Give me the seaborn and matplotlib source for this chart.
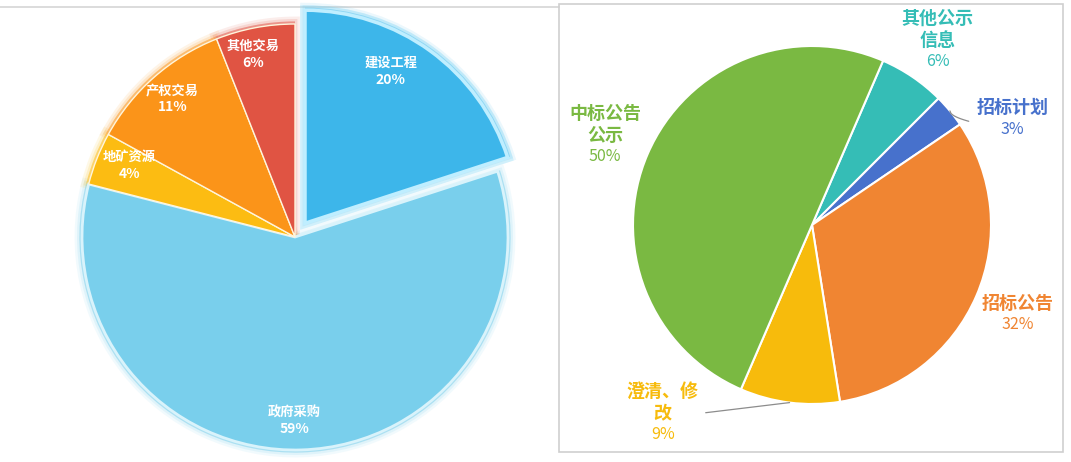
import numpy as np
import matplotlib
matplotlib.use("Agg")
import matplotlib.pyplot as plt
import matplotlib.patheffects as pe
from matplotlib.patches import Rectangle
from matplotlib.lines import Line2D
import seaborn as sns

# ---------------- data ----------------
left_labels = ["建设工程", "政府采购", "地矿资源", "产权交易", "其他交易"]
left_values = [20, 59, 4, 11, 6]
left_colors = ["#3db6ea", "#79cfec", "#fcbc12", "#fb9419", "#e05443"]

right_labels = ["其他公示\n信息", "招标计划", "招标公告", "澄清、修\n改", "中标公告\n公示"]
right_values = [6, 3, 32, 9, 50]
right_colors = ["#35bdb6", "#4771cc", "#f08532", "#f7bb0c", "#7ab942"]

sns.set_theme(style="white")
plt.rcParams['font.family'] = ['Noto Sans CJK SC', 'DejaVu Sans']

W, H = 1071, 462
fig = plt.figure(figsize=(W / 100, H / 100), dpi=100)
ax = fig.add_axes([0, 0, 1, 1])
ax.set_xlim(0, W)
ax.set_ylim(0, H)
ax.set_axis_off()

def py(y):
    return H - y

# panel frames
ax.add_line(Line2D([0, 559], [py(7), py(7)], color="#d6d6d6", lw=1.2, zorder=0))
ax.add_patch(Rectangle((559, py(452)), 504, 448, fill=False, ec="#cfcfcf", lw=1.2, zorder=0))

# ---------------- left pie ----------------
lc = (295, py(237))
lr = 213
explode_frac = [0.08, 0, 0, 0, 0]
explode = [e * lr for e in explode_frac]
pal_left = sns.color_palette(left_colors)

# glow layer
glow, _ = ax.pie(left_values, colors=pal_left, startangle=90, counterclock=False,
                 center=lc, radius=lr * 1.012, explode=explode,
                 frame=True, wedgeprops=dict(alpha=0.35, linewidth=0))
for w in glow:
    w.set_path_effects([pe.Stroke(linewidth=7, foreground=w.get_facecolor(), alpha=0.10),
                        pe.Stroke(linewidth=3.5, foreground=w.get_facecolor(), alpha=0.15),
                        pe.Normal()])

wedges, _ = ax.pie(left_values, colors=pal_left, startangle=90, counterclock=False,
                   center=lc, radius=lr, explode=explode, frame=True,
                   wedgeprops=dict(edgecolor="#fff5dc", linewidth=1.0))
wedges[0].set_edgecolor("#bfeeff")
wedges[0].set_linewidth(2.5)
wedges[0].set_path_effects([pe.Stroke(linewidth=7, foreground="#9fe3fa", alpha=0.35),
                            pe.Normal()])
wedges[1].set_edgecolor("#d9f3fb")
wedges[1].set_linewidth(2.0)

left_dist = [0.9, 0.86, 0.85, 0.87, 0.88]
left_angle_shift = [6, -2, -2, 0, 2]
for w, lab, v, d, sh in zip(wedges, left_labels, left_values, left_dist, left_angle_shift):
    mid = np.deg2rad((w.theta1 + w.theta2) / 2 + sh)
    x = lc[0] + d * lr * np.cos(mid)
    y = lc[1] + d * lr * np.sin(mid)
    ax.text(x, y + 8, lab, ha="center", va="center", color="white",
            fontsize=9.5, fontweight="bold", zorder=5)
    ax.text(x, y - 9, f"{v}%", ha="center", va="center", color="white",
            fontsize=10, fontweight="bold", zorder=5)

# ---------------- right pie ----------------
rc = (812, py(225))
rr = 179
pal_right = sns.color_palette(right_colors)
rw, _ = ax.pie(right_values, colors=pal_right, startangle=66.6, counterclock=False,
               center=rc, radius=rr, frame=True,
               wedgeprops=dict(edgecolor="white", linewidth=1.5))

# label placement (angle override, distance) per slice
r_dist = [1.25, 1.27, 1.25, 1.34, 1.26]
r_angle = [None, 28, None, -128.5, None]
line_gap = 21.5
for w, lab, v, d, ang, col in zip(rw, right_labels, right_values, r_dist, r_angle, right_colors):
    mid = (w.theta1 + w.theta2) / 2 if ang is None else ang
    t = np.deg2rad(mid)
    x = rc[0] + d * rr * np.cos(t)
    y = rc[1] + d * rr * np.sin(t)
    lines = lab.split("\n")
    n = len(lines) + 1
    top = y + (n - 1) / 2 * line_gap
    for i, s in enumerate(lines):
        ax.text(x, top - i * line_gap, s, ha="center", va="center", color=col,
                fontsize=13, fontweight="bold", zorder=5)
    ax.text(x, top - len(lines) * line_gap, f"{v}%", ha="center", va="center",
            color=col, fontsize=11.5, zorder=5)
    if ang is not None:
        tm = np.deg2rad((w.theta1 + w.theta2) / 2)
        ex_ = rc[0] + rr * np.cos(tm)
        ey_ = rc[1] + rr * np.sin(tm)
        if mid > 0:
            lx, ly = x - 44, y - 3
            xs = np.linspace(ex_, lx, 20)
            ys = ey_ + (ly - ey_) * np.sqrt((xs - ex_) / (lx - ex_))
            ax.add_line(Line2D(xs, ys, color="#8c8c8c", lw=0.9, zorder=4))
        else:
            lx, ly = x + 43, y
            ax.add_line(Line2D([ex_, lx], [ey_, ly], color="#8c8c8c", lw=0.9, zorder=4))

fig.savefig("out.png", dpi=100)
